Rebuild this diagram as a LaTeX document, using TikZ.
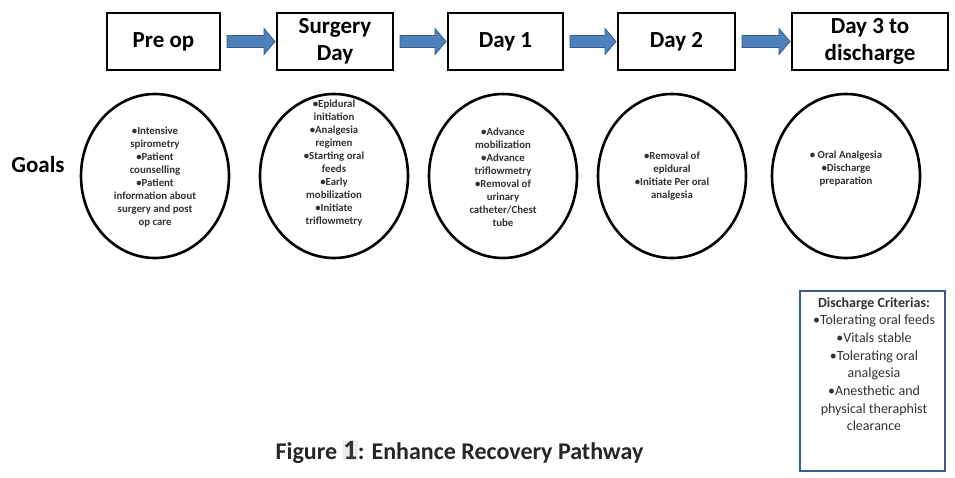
\documentclass[tikz,border=0pt]{standalone}
\usepackage{fontspec}
\setmainfont{Carlito}
\usetikzlibrary{calc,shapes.geometric}
\definecolor{arrfill}{RGB}{79,129,189}
\definecolor{arrline}{RGB}{56,93,138}
\definecolor{txtgray}{RGB}{50,50,50}
\tikzset{
  stagebox/.style={draw=black, line width=2pt, fill=white, inner sep=0pt, minimum height=57pt, align=center,
    font=\fontsize{23}{27}\selectfont\bfseries},
  goaloval/.style={draw=black, line width=2.6pt, ellipse, inner sep=0pt, minimum width=148pt, minimum height=164pt},
  goaltext/.style={align=center, inner sep=0pt, text=txtgray, font=\fontsize{10.8}{13}\selectfont\bfseries},
  bigarrow/.style={fill=arrfill, draw=arrline, line width=0.8pt, line join=miter}
}
\newcommand\flowarrow[2]{%
  \path[bigarrow] ($(#1.east)+(6,-6)$) -- ($(#2.west)+(-12,-6)$) -- ($(#2.west)+(-12,-13)$)
    -- ($(#2.west)+(-1,0)$) -- ($(#2.west)+(-12,13)$) -- ($(#2.west)+(-12,6)$)
    -- ($(#1.east)+(6,6)$) -- cycle;}
\begin{document}
\begin{tikzpicture}[x=1pt,y=-1pt]
\useasboundingbox[fill=white] (0,0) rectangle (955,477);
% stage boxes
\node[stagebox, minimum width=113pt] (pre) at (163.5,41.5) {Pre op};
\node[stagebox, minimum width=116pt] (surg) at (335,41.5) {Surgery\\Day};
\node[stagebox, minimum width=115pt] (d1) at (505.5,41.5) {Day 1};
\node[stagebox, minimum width=117pt] (d2) at (676.5,41.5) {Day 2};
\node[stagebox, minimum width=156pt] (d3) at (870,41.5) {Day 3 to\\discharge};
% arrows
\flowarrow{pre}{surg}
\flowarrow{surg}{d1}
\flowarrow{d1}{d2}
\flowarrow{d2}{d3}
% goals
\node[font=\fontsize{23}{27}\selectfont\bfseries, inner sep=0pt] (goals) at (38,165) {Goals};
\node[goaloval] (e1) at (155,176) {};
\node[goaloval] (e2) at (334,176) {};
\node[goaloval] (e3) at (503,176) {};
\node[goaloval] (e4) at (672,176) {};
\node[goaloval] (e5) at (846,176) {};
\node[goaltext] (t1) at (155,177) {•Intensive\\spirometry\\•Patient\\counselling\\•Patient\\information about\\surgery and post\\op care};
\node[goaltext] (t2) at (334,163) {•Epidural\\initiation\\•Analgesia\\regimen\\•Starting oral\\feeds\\•Early\\mobilization\\•Initiate\\triflowmetry};
\node[goaltext] (t3) at (503,177) {•Advance\\mobilization\\•Advance\\triflowmetry\\•Removal of\\urinary\\catheter/Chest\\tube};
\node[goaltext] (t4) at (672,176) {•Removal of\\epidural\\•Initiate Per oral\\analgesia};
\node[goaltext] (t5) at (846,169) {• Oral Analgesia\\•Discharge\\preparation};
% discharge criteria
\draw[draw=arrline, line width=1.8pt] (800,291) rectangle (945,471);
\node[align=center, inner sep=0pt, anchor=north, text=txtgray, font=\fontsize{14}{17.7}\selectfont] (crit) at (874,297)
  {\textbf{Discharge Criterias:}\\•Tolerating oral feeds\\•Vitals stable\\•Tolerating oral\\analgesia\\•Anesthetic and\\physical theraphist\\clearance};
% caption
\node[inner sep=0pt, font=\fontsize{24}{28}\selectfont\bfseries, text=black!85] (cap) at (459.5,452)
  {Figure {\setlength\fboxsep{0.5pt}\colorbox{black!8}{\textcolor{black!80}{\fontsize{28}{28}\selectfont 1}}}: Enhance Recovery Pathway};
\end{tikzpicture}
\end{document}
